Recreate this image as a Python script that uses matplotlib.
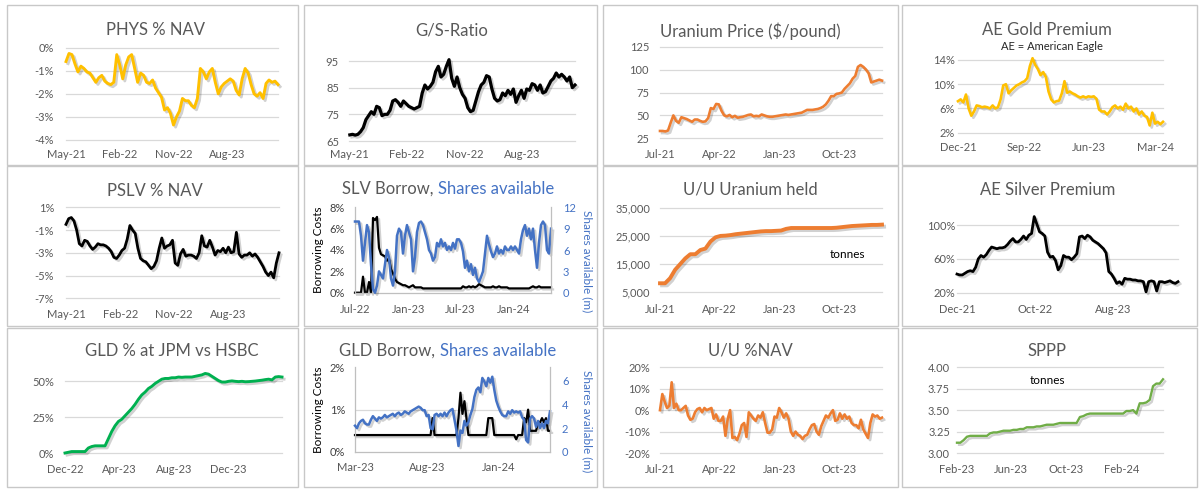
import pandas as pd
import matplotlib
matplotlib.use('Agg')
import matplotlib.pyplot as plt
import matplotlib.dates as mdates
import matplotlib.patheffects as pe
from matplotlib.patches import Rectangle
from matplotlib.ticker import FuncFormatter

plt.rcParams['font.family'] = ['Lato', 'DejaVu Sans']

# ---------------- data ----------------
phys_nav = [-0.6, -0.25, -0.3, -0.7, -1.05, -0.8, -0.9, -1.05, -1.1, -1.3, -1.5, -1.3, -1.2, -1.45, -1.55, -1.6,
            -1.5, -0.3, -0.75, -1.35, -0.75, -0.4, -0.3, -0.9, -1.5, -1.1, -1.2, -1.5, -1.55, -1.4, -1.75, -1.95,
            -2.15, -2.7, -2.6, -2.85, -3.35, -3.0, -2.75, -2.2, -2.3, -2.3, -2.5, -2.6, -2.2, -0.9, -1.05, -1.35,
            -1.05, -0.9, -1.5, -2.0, -1.7, -1.55, -1.45, -1.35, -1.45, -1.85, -2.05, -1.35, -0.9, -1.1, -1.6, -2.0,
            -2.1, -1.95, -2.2, -1.55, -1.4, -1.5, -1.45, -1.6]

gs_ratio = [67.3, 67.5, 67.2, 67.5, 68.5, 70, 73, 74.5, 76, 75, 78, 77.5, 74.5, 75, 75, 76.5, 80, 80.5, 79.5, 78,
            80, 79, 78, 77.5, 77, 77.5, 78, 83, 86, 84.5, 85.5, 87, 91, 93, 89, 90, 93, 95.5, 88.5, 85.5, 89, 85,
            82.5, 81, 77.5, 76, 76.5, 80, 83.5, 86, 87, 89.5, 89, 84.5, 81, 80, 80.5, 83, 82, 84, 82.5, 84.5, 79.5,
            82, 84, 81, 84.5, 84, 86.5, 86, 84, 86, 83, 83.5, 85.5, 87.5, 88.5, 90.5, 89, 90, 89, 87.5, 89, 85, 86]

uranium_price = [33, 33, 32.5, 33.5, 42, 50, 44, 42, 48, 47, 46, 44.5, 43, 45.5, 45.5, 44, 43, 43.5, 47, 58, 57,
                 62.5, 62, 55, 50, 49, 50.5, 48, 49.5, 47.5, 48, 48.5, 49.5, 50.5, 51, 49, 49.5, 49, 51, 50, 49,
                 48.5, 48.5, 49, 49.5, 50, 50.5, 51, 50.5, 51, 51.5, 52, 52.5, 53, 54.5, 56, 56, 56, 56.5, 57, 58,
                 59.5, 62, 66, 71, 71, 73.5, 74, 75, 79, 82, 85, 90, 93, 103, 105, 103, 100, 96, 86, 87, 88, 89, 88]

ae_gold = [7.2, 7.5, 7.0, 8.3, 6.0, 4.8, 5.5, 6.5, 6.4, 6.2, 6.3, 6.2, 6.0, 6.5, 6.0, 6.2, 7.5, 9.8, 10.0, 8.5,
           9.0, 9.4, 9.8, 10.0, 10.3, 10.5, 11.0, 13.0, 14.3, 13.2, 12.5, 11.5, 12.0, 11.2, 8.8, 7.5, 7.0, 7.2,
           7.3, 8.5, 10.5, 8.6, 8.8, 8.5, 8.3, 8.0, 7.8, 8.0, 7.8, 8.0, 7.9, 8.0, 7.6, 5.8, 5.5, 5.5, 5.0, 5.5,
           6.2, 6.5, 6.0, 6.3, 5.8, 6.8, 6.0, 6.3, 5.5, 6.0, 5.0, 5.5, 4.8, 4.6, 3.2, 5.3, 3.5, 3.8, 3.4, 3.8]

pslv_nav = [-0.5, 0.0, 0.1, -0.2, -1.0, -2.2, -2.4, -1.9, -2.0, -2.4, -2.7, -2.5, -2.2, -2.3, -2.3, -2.4, -2.6,
            -2.9, -3.4, -3.5, -3.2, -2.8, -2.6, -1.8, -0.6, -1.0, -1.3, -2.6, -3.5, -3.7, -3.8, -4.1, -4.4, -4.2,
            -3.7, -2.6, -1.7, -2.6, -2.4, -2.3, -1.9, -3.9, -4.1, -3.1, -2.7, -3.3, -3.2, -3.2, -3.3, -3.5, -3.0,
            -1.5, -2.4, -2.5, -1.9, -2.5, -3.2, -2.8, -2.9, -2.6, -3.0, -2.5, -3.0, -2.9, -1.2, -3.1, -3.4, -3.2,
            -3.2, -3.0, -3.3, -3.1, -3.4, -3.8, -4.2, -4.7, -5.0, -4.7, -5.2, -3.9, -3.0]

slv_borrow = [0, 0, 0, 0, 1.5, 0, 0, 1.0, 0, 7.0, 6.8, 7.1, 4.2, 3.6, 3.5, 3.4, 3.0, 3.2, 2.2, 1.8, 1.3, 1.0,
              0.9, 0.8, 0.7, 0.7, 0.6, 0.5, 0.6, 0.7, 0.5, 0.5, 0.5, 0.5, 0.4, 0.4, 0.4, 0.4, 0.4, 0.4, 0.4, 0.4,
              0.4, 0.4, 0.4, 0.4, 0.4, 0.4, 0.4, 0.4, 0.4, 0.4, 0.4, 0.4, 0.6, 0.5, 0.5, 0.6, 0.5, 0.6, 0.5, 0.6,
              0.8, 0.7, 0.6, 0.5, 0.5, 0.5, 0.5, 0.6, 0.5, 0.5, 0.6, 0.5, 0.5, 0.5, 0.5, 0.4, 0.4, 0.4, 0.4, 0.4,
              0.4, 0.4, 0.4, 0.4, 0.4, 0.4, 0.5, 0.6, 0.5, 0.5, 0.6, 0.5, 0.5, 0.5, 0.5, 0.5, 0.5]
slv_shares = [10, 10, 10, 8, 4.5, 7, 9.5, 8.5, 4, 0.5, 0, 1, 3, 2.5, 2, 4, 6, 5, 2, 1, 3, 8, 9, 8.5, 5.5, 8, 9.5,
              8.5, 7.5, 3, 5, 8.5, 9.8, 10, 9.5, 8.5, 7.5, 6, 5.5, 4.5, 5, 7, 6.5, 7.5, 6.5, 7, 6, 6.5, 6, 7, 6.2,
              7.5, 7.5, 7, 5.8, 3.5, 4.5, 3, 4, 2.5, 3.5, 2, 1.5, 2.2, 3, 5.5, 8, 6.8, 5.8, 5, 5.5, 6.5, 5.5, 6,
              5.5, 6.5, 6, 6, 6.5, 6, 6.5, 6, 5.5, 7.5, 8.8, 9.5, 8, 9, 7.5, 9, 6, 3.5, 7, 9.5, 10, 9.5, 6, 5.5, 9]

uu_held = [8200, 8200, 10000, 13000, 15000, 17000, 18500, 18500, 20000, 20500, 23000, 24500, 25000, 25100,
           25300, 25600, 25800, 26000, 26200, 26400, 26600, 26700, 26700, 26800, 26900, 27500, 27800, 27800,
           27800, 27800, 27800, 27800, 27800, 27800, 27800, 27900, 28100, 28300, 28500, 28600, 28700, 28800,
           28900, 28900, 29000]

ae_silver = [42, 41, 41, 43, 45, 46, 45, 50, 60, 64, 62, 65, 70, 74, 73, 72, 73, 73, 74, 77, 81, 84, 80, 80, 83,
             87, 83, 88, 90, 110, 101, 92, 90, 87, 68, 62, 63, 58, 47, 52, 64, 62, 62, 59, 62, 66, 86, 87, 84, 88,
             86, 82, 80, 78, 75, 72, 67, 45, 42, 37, 31, 33, 30, 37, 36, 36, 35, 35, 34, 34, 33, 21, 33, 34, 33,
             22, 33, 33, 32, 33, 34, 32, 31, 33]

gld_jpm = [0, 0.5, 1, 1, 1, 1, 1, 3.5, 4.5, 5, 5, 5, 5, 10, 15, 19, 22, 23.5, 26, 28.5, 31, 34, 37.5, 40.5, 42.5,
           45, 46.5, 48.5, 50, 51.5, 52, 52, 52.5, 52.5, 53, 52.8, 53, 53, 53, 53.5, 54, 54.5, 55.5, 55, 53.5, 52,
           50.5, 49.5, 49.5, 50, 50.3, 50, 49.8, 50, 49.7, 49.8, 50, 50.2, 50.5, 50.8, 51.2, 51.5, 51, 53, 53.3, 53]

gld_borrow = [0.4, 0.4, 0.4, 0.4, 0.4, 0.4, 0.4, 0.4, 0.4, 0.4, 0.4, 0.4, 0.4, 0.4, 0.4, 0.4, 0.4, 0.4, 0.4, 0.4,
              0.4, 0.4, 0.4, 0.4, 0.4, 0.4, 0.4, 0.4, 0.4, 0.4, 0.4, 0.4, 0.4, 0.4, 0.4, 0.4, 0.4, 0.4, 0.4, 0.8,
              0.4, 0.4, 0.4, 0.4, 0.4, 0.4, 0.4, 0.4, 0.4, 0.4, 0.4, 0.4, 0.8, 1.4, 0.9, 1.2, 0.8, 0.4, 0.4, 0.4,
              0.4, 0.4, 0.4, 0.4, 0.4, 0.4, 0.4, 0.8, 0.8, 0.8, 0.4, 0.4, 0.4, 0.4, 0.4, 0.4, 0.4, 0.4, 0.4, 0.4,
              0.4, 0.3, 0.4, 0.4, 0.4, 0.8, 0.7, 1.0, 0.5, 0.5, 0.5, 0.5, 0.7, 0.7, 0.8, 0.7, 0.8, 0.5, 0.5]
gld_shares = [2.2, 2.0, 2.4, 2.6, 2.7, 2.4, 2.3, 2.3, 2.7, 3.0, 2.8, 2.6, 2.9, 2.8, 2.9, 3.1, 2.9, 3.0, 3.1, 3.2,
              3.0, 3.2, 3.3, 3.1, 3.2, 3.4, 3.3, 3.2, 3.4, 3.5, 3.6, 3.7, 3.8, 3.7, 3.5, 3.5, 3.0, 3.1, 2.0, 1.9,
              3.1, 3.2, 3.0, 3.2, 3.0, 3.3, 3.0, 3.3, 3.5, 3.6, 2.7, 1.8, 0.5, 1.8, 1.6, 2.6, 2.2, 2.5, 3.1, 3.6,
              4.6, 5.2, 5.4, 5.0, 6.2, 5.9, 5.5, 6.2, 5.8, 6.3, 5.2, 4.3, 3.8, 3.4, 3.1, 3.0, 3.0, 3.4, 3.2, 3.5,
              3.3, 3.4, 3.3, 3.4, 2.9, 2.7, 1.0, 0.8, 2.8, 3.0, 2.8, 2.1, 2.6, 2.0, 2.4, 2.0, 2.6, 2.4, 3.4]

uu_nav = [0, 7.5, 4, 1, 2, 13, 1, 3, 0, 0, 1, 2, -2.5, -4.5, -4, -1, 0.5, 1, -1, 1, 0, 0.5, 1, -4, -2, -5, -5, -3,
          -12, -4, 0, -13, -12.5, -14, -11, -7, -6, -12.5, -1, -2.5, -4, -5, -2.5, -3.5, -1, -6, -10.5, -10.5, -9,
          -3, -3.5, 1, -1, -3.5, -1.5, -4, -10, -12, -10, -11.5, -12, -13.5, -12, -11.5, -9, -7, -6.5, -10, -11.5,
          -7.5, -5, -2.5, -3.5, -1.5, 0, -5, -4.5, -1.5, -4, -2, -4, -3, -6, -7, -7, -8.5, -4.5, -9, -11, -13, -6,
          -2, -3, -2.5, -4, -3.5]

sppp = [3.12, 3.12, 3.15, 3.19, 3.20, 3.20, 3.20, 3.20, 3.20, 3.20, 3.23, 3.24, 3.24, 3.25, 3.26, 3.26, 3.26,
        3.27, 3.27, 3.28, 3.28, 3.30, 3.30, 3.30, 3.31, 3.31, 3.32, 3.33, 3.33, 3.33, 3.34, 3.35, 3.35, 3.35,
        3.35, 3.35, 3.35, 3.42, 3.43, 3.45, 3.46, 3.46, 3.46, 3.46, 3.46, 3.46, 3.46, 3.46, 3.46, 3.46, 3.46,
        3.49, 3.49, 3.50, 3.46, 3.58, 3.58, 3.59, 3.62, 3.78, 3.81, 3.81, 3.86]

# ---------------- colours / helpers ----------------
GOLD = '#FFC000'
ORANGE = '#ED7D31'
GREEN = '#00B050'
LGREEN = '#70AD47'
BLUE = '#4472C4'
TXT = '#595959'
GRID = '#D9D9D9'

W, H = 1200, 491
PT = 100 / 72
TICK_FS = 8

fig = plt.figure(figsize=(12, 4.91), dpi=100)

# panel frames
for (x0, x1) in [(7, 298), (304, 597), (603, 898), (902, 1197)]:
    for (y0, y1) in [(5, 165), (166, 326), (328, 487)]:
        fig.add_artist(Rectangle((x0 / W, 1 - y1 / H), (x1 - x0) / W, (y1 - y0) / H,
                                 transform=fig.transFigure, fill=False, ec='#C8C8C8', lw=1))


def make_ax(l, r, t, b):
    return fig.add_axes([l / W, 1 - b / H, (r - l) / W, (b - t) / H])


def dates(start, end, vals):
    return pd.date_range(start, end, periods=len(vals))


def draw(ax, x, y, color, lw=2.0):
    ax.plot(x, y, color=color, lw=lw, solid_joinstyle='round', clip_on=False,
            path_effects=[pe.SimpleLineShadow(offset=(1.5, -1.5), shadow_color='black', alpha=0.18),
                          pe.Normal()])


def style(ax, yticks, yfmt, xticks, ygap, xlab_y, bottom, grid=True):
    ax.set_yticks(yticks)
    ax.yaxis.set_major_formatter(FuncFormatter(yfmt))
    ax.set_xticks([pd.Timestamp(d) for d in xticks])
    ax.xaxis.set_major_formatter(mdates.DateFormatter('%b-%y'))
    for s in ax.spines.values():
        s.set_visible(False)
    ax.tick_params(axis='both', length=0, labelsize=TICK_FS, labelcolor=TXT)
    ax.tick_params(axis='y', pad=ygap / PT)
    ax.tick_params(axis='x', pad=(xlab_y - bottom - 6) / PT)
    if grid:
        for v in yticks:
            ax.axhline(v, color=GRID, lw=0.9, zorder=0, clip_on=False)
    ax.patch.set_alpha(0)


def title(x, y, s, size=12, color=TXT):
    return fig.text(x / W, 1 - y / H, s, ha='center', va='center', fontsize=size, color=color)


pct = lambda v, p: f'{v:.0f}%'
num = lambda v, p: f'{v:.0f}'

# 1 PHYS % NAV
ax = make_ax(66, 278, 47.7, 140)
draw(ax, dates('2021-05-01', '2024-04-17', phys_nav), phys_nav, GOLD, 2.1)
ax.set_ylim(-4, 0)
ax.set_xlim(pd.Timestamp('2021-05-01'), pd.Timestamp('2024-04-17'))
style(ax, [-4, -3, -2, -1, 0], pct, ['2021-05-01', '2022-02-01', '2022-11-01', '2023-08-01'], 12, 155, 140)
title(155, 30, 'PHYS % NAV')

# 2 G/S ratio
ax = make_ax(349, 575, 61, 141)
draw(ax, dates('2021-05-05', '2024-04-09', gs_ratio), gs_ratio, 'black', 2.3)
ax.set_ylim(65, 95)
ax.set_xlim(pd.Timestamp('2021-05-01'), pd.Timestamp('2024-04-09'))
style(ax, [65, 75, 85, 95], num, ['2021-05-01', '2022-02-01', '2022-11-01', '2023-08-01'], 10, 155, 141)
title(452, 30, 'G/S-Ratio')

# 3 Uranium price
ax = make_ax(660, 882, 46.7, 138.3)
draw(ax, dates('2021-07-01', '2024-04-15', uranium_price), uranium_price, ORANGE, 1.9)
ax.set_ylim(25, 125)
ax.set_xlim(pd.Timestamp('2021-07-01'), pd.Timestamp('2024-04-15'))
style(ax, [25, 50, 75, 100, 125], num, ['2021-07-01', '2022-04-01', '2023-01-01', '2023-10-01'], 11, 155, 138.3)
title(750, 31, 'Uranium Price ($/pound)')

# 4 AE gold premium
ax = make_ax(958, 1163, 60, 132.7)
draw(ax, dates('2021-12-01', '2024-04-03', ae_gold), ae_gold, GOLD, 1.9)
ax.set_ylim(2, 14)
ax.set_xlim(pd.Timestamp('2021-12-01'), pd.Timestamp('2024-04-03'))
style(ax, [2, 6, 10, 14], pct, ['2021-12-01', '2022-09-01', '2023-06-01', '2024-03-01'], 3, 148.3, 132.7)
title(1047, 30, 'AE Gold Premium')
title(1052, 46.5, 'AE = American Eagle', size=8, color='#262626')

# 5 PSLV % NAV
ax = make_ax(66, 279, 207.3, 298.3)
draw(ax, dates('2021-05-01', '2024-04-16', pslv_nav), pslv_nav, 'black', 2.0)
ax.set_ylim(-7, 1)
ax.set_xlim(pd.Timestamp('2021-05-01'), pd.Timestamp('2024-04-16'))
style(ax, [-7, -5, -3, -1, 1], pct, ['2021-05-01', '2022-02-01', '2022-11-01', '2023-08-01'], 12, 315, 298.3)
title(155, 191, 'PSLV % NAV')


# twin-axis panels
def twin_panel(l, r, t, b, borrow, shares, start, end, ymax2, lticks, rticks, xticks, xlab_y, ttl_x, ttl_y,
               left_name, grid1=False):
    ax = make_ax(l, r, t, b)
    ax2 = ax.twinx()
    draw(ax, dates(start, end, borrow), borrow, 'black', 1.6)
    draw(ax2, dates(start, end, shares), shares, BLUE, 1.8)
    ax.set_ylim(lticks[0], lticks[-1])
    ax2.set_ylim(0, ymax2)
    ax.set_xlim(pd.Timestamp(start), pd.Timestamp(end))
    style(ax, lticks, pct, xticks, 10, xlab_y, b, grid=False)
    ax.tick_params(axis='y', labelcolor='#404040')
    if grid1:
        ax.axhline(1, color=GRID, lw=0.9, zorder=0)
    for a in (ax, ax2):
        for s in a.spines.values():
            s.set_visible(False)
    ax.spines['left'].set_visible(True)
    ax.spines['bottom'].set_visible(True)
    ax2.spines['right'].set_visible(True)
    for s in (ax.spines['left'], ax.spines['bottom'], ax2.spines['right']):
        s.set_color('#BFBFBF')
        s.set_linewidth(0.9)
    ax2.set_yticks(rticks)
    ax2.yaxis.set_major_formatter(FuncFormatter(num))
    ax2.tick_params(axis='y', length=0, labelsize=TICK_FS, labelcolor=BLUE, pad=12 / PT)
    fig.text(318 / W, 1 - (t + b) / 2 / H, 'Borrowing Costs', rotation=90, ha='center', va='center',
             fontsize=8.5, color='black')
    fig.text(587 / W, 1 - ((t + b) / 2 + 11) / H, 'Shares available (m)', rotation=270, ha='center',
             va='center', fontsize=8.5, color=BLUE)
    t1 = fig.text(ttl_x / W, 1 - ttl_y / H, left_name, ha='left', va='center', fontsize=12, color=TXT)
    ax.annotate('Shares available', xy=(1, 0), xycoords=t1, xytext=(3.5, 0), textcoords='offset points',
                ha='left', va='bottom', fontsize=12, color=BLUE, annotation_clip=False)


# 6 SLV borrow
twin_panel(355, 551, 207.3, 292.7, slv_borrow, slv_shares, '2022-07-01', '2024-05-10', 12,
           [0, 2, 4, 6, 8], [0, 3, 6, 9, 12], ['2022-07-01', '2023-01-01', '2023-07-01', '2024-01-01'],
           310, 342, 189, 'SLV Borrow,')

# 7 U/U uranium held
ax = make_ax(660, 882, 207.7, 292.3)
draw(ax, dates('2021-07-01', '2024-04-15', uu_held), uu_held, ORANGE, 2.8)
ax.set_ylim(5000, 35000)
ax.set_xlim(pd.Timestamp('2021-07-01'), pd.Timestamp('2024-04-15'))
style(ax, [5000, 15000, 25000, 35000], lambda v, p: f'{v:,.0f}',
      ['2021-07-01', '2022-04-01', '2023-01-01', '2023-10-01'], 10, 310, 292.3)
title(750, 190, 'U/U Uranium held')
title(847, 254, 'tonnes', size=8.5, color='black')

# 8 AE silver premium
ax = make_ax(957, 1178, 214.9, 292.7)
draw(ax, dates('2021-12-01', '2024-04-10', ae_silver), ae_silver, 'black', 2.0)
ax.set_ylim(20, 112)
ax.set_xlim(pd.Timestamp('2021-12-01'), pd.Timestamp('2024-04-10'))
style(ax, [20, 60, 100], pct, ['2021-12-01', '2022-10-01', '2023-08-01'], 2, 310, 292.7)
title(1048, 190, 'AE Silver Premium')

# 9 GLD % at JPM vs HSBC
ax = make_ax(65, 282, 371.3, 453)
draw(ax, dates('2022-12-01', '2024-03-29', gld_jpm), gld_jpm, GREEN, 2.1)
ax.set_ylim(0, 57)
ax.set_xlim(pd.Timestamp('2022-12-01'), pd.Timestamp('2024-03-29'))
style(ax, [0, 25, 50], pct, ['2022-12-01', '2023-04-01', '2023-08-01', '2023-12-01'], 11, 469.7, 453)
title(172, 351, 'GLD % at JPM vs HSBC')

# 10 GLD borrow
twin_panel(355, 550, 367.3, 452, gld_borrow, gld_shares, '2023-03-01', '2024-04-18', 7.09,
           [0, 1, 2], [0, 2, 4, 6], ['2023-03-01', '2023-08-01', '2024-01-01'],
           468, 339, 351, 'GLD Borrow,', grid1=True)

# 11 U/U %NAV
ax = make_ax(660, 882, 367.3, 453)
draw(ax, dates('2021-07-01', '2024-04-15', uu_nav), uu_nav, ORANGE, 1.9)
ax.set_ylim(-20, 20)
ax.set_xlim(pd.Timestamp('2021-07-01'), pd.Timestamp('2024-04-15'))
style(ax, [-20, -10, 0, 10, 20], pct, ['2021-07-01', '2022-04-01', '2023-01-01', '2023-10-01'], 10, 469.7, 453)
title(750, 351, 'U/U %NAV')

# 12 SPPP
ax = make_ax(957, 1163, 367.3, 453)
draw(ax, dates('2023-02-01', '2024-05-02', sppp), sppp, LGREEN, 1.7)
ax.set_ylim(3.0, 4.0)
ax.set_xlim(pd.Timestamp('2023-02-01'), pd.Timestamp('2024-05-02'))
style(ax, [3.0, 3.25, 3.5, 3.75, 4.0], lambda v, p: f'{v:.2f}',
      ['2023-02-01', '2023-06-01', '2023-10-01', '2024-02-01'], 7, 469.7, 453)
title(1047, 351, 'SPPP')
title(1047, 380.5, 'tonnes', size=8.5, color='black')

fig.savefig('out.png', dpi=100, facecolor='white')
